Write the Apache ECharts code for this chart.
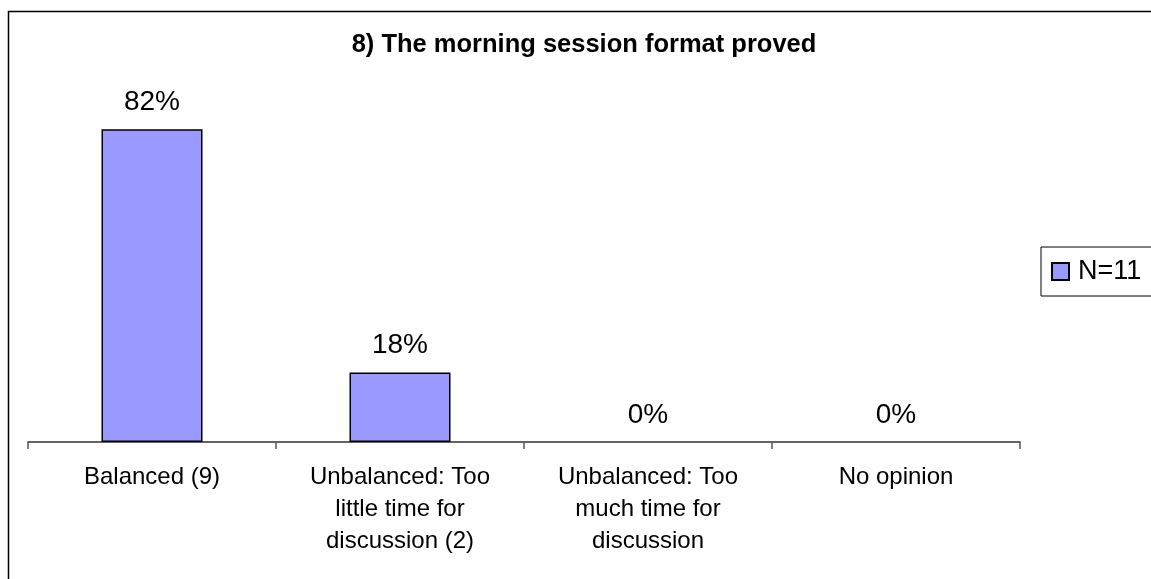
<!DOCTYPE html>
<html>
<head>
<meta charset="utf-8">
<script src="https://cdn.jsdelivr.net/npm/echarts@6/dist/echarts.min.js"></script>
<style>
html,body{margin:0;padding:0;background:#fff;}
#c{width:1151px;height:579px;}
</style>
</head>
<body>
<div id="c"></div>
<script>
var titleText = "8) The morning session format proved";
var categories = ["Balanced (9)", "Unbalanced: Too\nlittle time for\ndiscussion (2)", "Unbalanced: Too\nmuch time for\ndiscussion", "No opinion"];
var seriesName = "N=11";
var values = [81.82, 18.18, 0, 0];

var FONT = "Liberation Sans, Arial, sans-serif";
var barData = values.map(function (v) {
  return v === 0 ? {value: v, itemStyle: {borderWidth: 0}} : {value: v};
});
var chart = echarts.init(document.getElementById('c'), null, {renderer: 'canvas'});
chart.setOption({
  backgroundColor: '#ffffff',
  animation: false,
  graphic: [{
    type: 'rect',
    shape: {x: 8.5, y: 11.5, width: 1300, height: 800},
    style: {fill: 'none', stroke: '#000', lineWidth: 1.5},
    silent: true
  }],
  title: {
    text: titleText,
    left: 584,
    textAlign: 'center',
    top: 32,
    padding: 0,
    textStyle: {fontFamily: FONT, fontSize: 25.5, fontWeight: 'bold', color: '#000'}
  },
  legend: {
    data: [seriesName],
    left: 1041,
    top: 247,
    orient: 'vertical',
    padding: [11, 60, 11, 10],
    borderColor: '#000',
    borderWidth: 1,
    itemWidth: 17,
    itemHeight: 17,
    icon: 'rect',
    textStyle: {fontFamily: FONT, fontSize: 27, color: '#000', padding: [0, 0, 0, 4]}
  },
  grid: {left: 28, right: 131, top: 98, bottom: 137, containLabel: false},
  xAxis: {
    type: 'category',
    data: categories,
    axisLine: {show: true, lineStyle: {color: '#333', width: 1.5}},
    axisTick: {show: true, alignWithLabel: false, interval: 0, length: 7, lineStyle: {color: '#555', width: 1.5}},
    axisLabel: {fontFamily: FONT, fontSize: 24, color: '#000', lineHeight: 32, margin: 19, interval: 0}
  },
  yAxis: {
    type: 'value', min: 0, max: 90,
    show: false,
    splitLine: {show: false}
  },
  series: [{
    name: seriesName,
    type: 'bar',
    data: barData,
    barWidth: 101,
    itemStyle: {color: '#9999FF', borderColor: '#000', borderWidth: 1.5},
    label: {
      show: true,
      position: 'top',
      distance: 13,
      fontFamily: FONT,
      fontSize: 28,
      color: '#000',
      formatter: function (p) { return Math.round(p.value) + '%'; }
    }
  }]
});
</script>
</body>
</html>
